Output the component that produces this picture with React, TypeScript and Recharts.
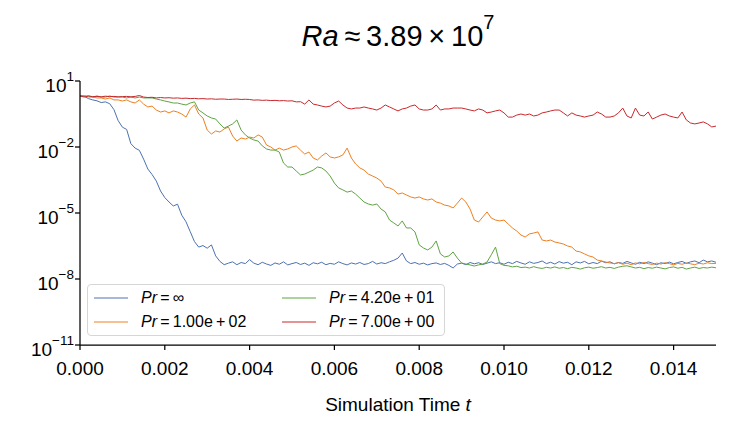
import { LineChart, Line, XAxis, YAxis, Legend } from 'recharts'

// time step between samples (t runs 0 .. 0.015)
const T_STEP = 0.0001

// log10 of the plotted quantity, one value per sample
const logInf = [
  0.33, 0.30, 0.20, 0.14, 0.10, 0.02, 0.05, -0.03, -0.30, -0.80,
  -1.10, -1.20, -1.85, -2.05, -2.15, -2.55, -3.00, -3.25, -3.55, -4.00,
  -4.30, -4.50, -4.68, -4.60, -5.10, -5.40, -5.85, -6.30, -6.55, -6.48,
  -6.60, -6.45, -6.95, -7.20, -7.35, -7.28, -7.22, -7.35, -7.25, -7.30,
  -7.12, -7.28, -7.35, -7.24, -7.32, -7.38, -7.27, -7.33, -7.22, -7.36,
  -7.30, -7.25, -7.34, -7.28, -7.38, -7.26, -7.31, -7.24, -7.35, -7.29,
  -7.33, -7.22, -7.30, -7.36, -7.27, -7.32, -7.25, -7.34, -7.30, -7.20,
  -7.32, -7.26, -7.30, -7.22, -7.15, -7.05, -6.82, -7.18, -7.30, -7.25,
  -7.33, -7.28, -7.36, -7.30, -7.27, -7.34, -7.29, -7.38, -7.50, -7.32,
  -7.28, -7.35, -7.25, -7.31, -7.26, -7.34, -7.28, -7.22, -7.30, -7.26,
  -7.33, -7.24, -7.30, -7.20, -7.27, -7.33, -7.22, -7.29, -7.25, -7.18,
  -7.30, -7.24, -7.32, -7.21, -7.28, -7.24, -7.35, -7.22, -7.27, -7.20,
  -7.31, -7.25, -7.30, -7.19, -7.26, -7.22, -7.31, -7.25, -7.29, -7.20,
  -7.27, -7.33, -7.24, -7.30, -7.22, -7.28, -7.35, -7.26, -7.30, -7.23,
  -7.31, -7.25, -7.20, -7.29, -7.22, -7.18, -7.26, -7.14, -7.22, -7.18,
  -7.24,
]

const log100 = [
  0.32, 0.32, 0.27, 0.27, 0.23, 0.23, 0.18, 0.23, 0.14, 0.14,
  0.09, 0.14, 0.05, 0.00, 0.14, -0.05, -0.18, -0.14, -0.32, -0.41,
  -0.36, -0.45, -0.36, -0.41, -0.50, -0.64, -0.27, -0.09, -0.50, -0.68,
  -1.23, -1.41, -1.27, -1.32, -1.18, -1.09, -1.50, -1.73, -1.59, -1.64,
  -1.55, -1.59, -1.45, -1.55, -1.91, -2.00, -2.14, -2.05, -2.14, -2.09,
  -2.00, -1.95, -2.14, -2.32, -2.23, -2.50, -2.59, -2.41, -2.27, -2.45,
  -2.50, -2.45, -2.36, -2.05, -2.50, -2.77, -2.95, -3.05, -3.23, -3.32,
  -3.41, -3.55, -3.82, -3.86, -3.95, -4.14, -4.09, -4.18, -4.27, -4.32,
  -4.27, -4.36, -4.41, -4.36, -4.50, -4.55, -4.64, -4.68, -4.77, -4.55,
  -4.32, -4.50, -4.82, -5.32, -5.41, -5.18, -4.95, -5.23, -5.32, -5.36,
  -5.32, -5.50, -5.68, -5.82, -6.00, -6.09, -5.95, -5.91, -5.86, -6.23,
  -6.27, -6.23, -6.32, -6.36, -6.41, -6.50, -6.55, -6.73, -6.77, -6.86,
  -6.95, -7.00, -7.14, -7.18, -7.23, -7.27, -7.30, -7.26, -7.33, -7.28,
  -7.35, -7.27, -7.31, -7.25, -7.30, -7.34, -7.28, -7.32, -7.26, -7.30,
  -7.36, -7.29, -7.33, -7.27, -7.31, -7.35, -7.28, -7.32, -7.26, -7.30,
  -7.29,
]

const log42 = [
  0.32, 0.32, 0.32, 0.27, 0.32, 0.27, 0.27, 0.32, 0.27, 0.27,
  0.27, 0.23, 0.27, 0.23, 0.27, 0.23, 0.23, 0.23, 0.18, 0.14,
  0.09, 0.05, 0.00, 0.00, -0.05, -0.09, 0.00, 0.05, -0.32, -0.45,
  -0.59, -0.68, -0.73, -0.95, -1.14, -1.05, -0.95, -0.77, -1.23, -1.45,
  -1.59, -1.68, -1.73, -1.95, -2.09, -2.14, -2.14, -2.23, -2.73, -2.91,
  -2.91, -3.09, -3.27, -3.23, -3.14, -3.05, -2.91, -2.95, -3.09, -3.32,
  -3.64, -3.86, -3.95, -4.05, -4.00, -4.14, -4.32, -4.50, -4.59, -4.64,
  -4.59, -4.82, -4.95, -5.32, -5.45, -5.59, -5.36, -5.68, -5.68, -5.86,
  -6.45, -6.59, -6.68, -6.55, -6.27, -6.86, -7.00, -6.95, -6.77, -7.05,
  -7.27, -7.32, -7.36, -7.41, -7.36, -7.32, -7.23, -6.90, -6.55, -7.30,
  -7.38, -7.40, -7.45, -7.42, -7.48, -7.46, -7.50, -7.44, -7.49, -7.52,
  -7.47, -7.50, -7.45, -7.51, -7.48, -7.53, -7.47, -7.50, -7.55, -7.49,
  -7.46, -7.51, -7.48, -7.44, -7.50, -7.47, -7.52, -7.46, -7.42, -7.40,
  -7.45, -7.50, -7.47, -7.53, -7.48, -7.51, -7.46, -7.50, -7.54, -7.48,
  -7.45, -7.51, -7.47, -7.55, -7.50, -7.46, -7.52, -7.48, -7.50, -7.46,
  -7.49,
]

const log7 = [
  0.32, 0.27, 0.32, 0.29, 0.30, 0.28, 0.31, 0.29, 0.30, 0.28,
  0.29, 0.30, 0.28, 0.30, 0.34, 0.27, 0.25, 0.26, 0.23, 0.25,
  0.23, 0.24, 0.22, 0.23, 0.21, 0.22, 0.20, 0.21, 0.19, 0.20,
  0.18, 0.19, 0.17, 0.18, 0.18, 0.16, 0.17, 0.18, 0.16, 0.17,
  0.16, 0.13, 0.14, 0.12, 0.13, 0.11, 0.12, 0.10, 0.11, 0.09,
  0.10, 0.05, 0.06, -0.05, 0.14, -0.05, -0.09, -0.14, -0.18, -0.14,
  0.00, 0.09, -0.09, -0.23, -0.27, -0.23, -0.23, -0.18, -0.23, -0.27,
  -0.32, -0.23, -0.09, -0.18, -0.27, -0.36, -0.27, -0.23, -0.14, -0.09,
  -0.27, -0.32, -0.32, -0.27, -0.09, -0.32, -0.27, -0.27, -0.23, -0.23,
  -0.23, -0.27, -0.32, -0.36, -0.27, -0.32, -0.45, -0.41, -0.36, -0.32,
  -0.45, -0.64, -0.64, -0.55, -0.50, -0.55, -0.50, -0.59, -0.55, -0.45,
  -0.41, -0.36, -0.32, -0.32, -0.45, -0.59, -0.45, -0.55, -0.59, -0.64,
  -0.59, -0.55, -0.41, -0.50, -0.64, -0.64, -0.59, -0.45, -0.23, -0.59,
  -0.68, -0.23, -0.55, -0.59, -0.41, -0.73, -0.64, -0.55, -0.50, -0.59,
  -0.64, -0.68, -0.41, -0.77, -0.91, -0.95, -0.91, -0.86, -0.95, -1.09,
  -1.05,
]

const X_TICKS = [0, 0.002, 0.004, 0.006, 0.008, 0.01, 0.012, 0.014]
const Y_TICKS = [1e-11, 1e-8, 1e-5, 1e-2, 10]

const SERIES = [
  { key: 'inf', pr: '∞', color: '#4c72b0', logs: logInf },
  { key: 'p100', pr: '1.00e\u2009+\u200902', color: '#ee8021', logs: log100 },
  { key: 'p42', pr: '4.20e\u2009+\u200901', color: '#5fa443', logs: log42 },
  { key: 'p7', pr: '7.00e\u2009+\u200900', color: '#c9282d', logs: log7 },
]

const data = logInf.map((_, i) => {
  const row: Record<string, number> = { t: i * T_STEP }
  SERIES.forEach((s) => {
    row[s.key] = Math.pow(10, s.logs[i])
  })
  return row
})

const FONT = '"Liberation Sans", Arial, sans-serif'

function XTick({ x, y, payload }: any) {
  return (
    <text x={x} y={y} dy={23} textAnchor="middle" fontSize={19} fill="#000" fontFamily={FONT}>
      {payload.value.toFixed(3)}
    </text>
  )
}

function YTick({ x, y, payload }: any) {
  const exp = Math.round(Math.log10(payload.value))
  const expText = exp < 0 ? '\u2212' + -exp : String(exp)
  return (
    <text x={x + 1} y={y} dy={11} textAnchor="end" fontSize={19} fill="#000" fontFamily={FONT}>
      <tspan>10</tspan>
      <tspan dy={-11} fontSize={13.5}>{expText}</tspan>
    </text>
  )
}

function XTitle({ viewBox }: any) {
  const cx = viewBox.x + viewBox.width / 2
  return (
    <text x={cx} y={viewBox.y + 66} textAnchor="middle" fontSize={19} fill="#000" fontFamily={FONT}>
      Simulation Time <tspan fontStyle="italic">t</tspan>
    </text>
  )
}

function PrLegend() {
  return (
    <div
      style={{
        boxSizing: 'border-box',
        width: 358,
        height: 52,
        border: '1px solid #d6d6d6',
        borderRadius: 4,
        background: 'rgba(255,255,255,0.85)',
        display: 'grid',
        gridTemplateRows: '24px 24px',
        gridAutoFlow: 'column',
        gridTemplateColumns: '188px 160px',
        padding: '1px 0 0 6px',
        fontFamily: FONT,
        fontSize: 16,
        color: '#000',
      }}
    >
      {SERIES.map((s) => (
        <div key={s.key} style={{ display: 'flex', alignItems: 'center', whiteSpace: 'nowrap' }}>
          <svg width={34} height={4} style={{ marginRight: 13 }}>
            <line x1={0} y1={2} x2={34} y2={2} stroke={s.color} strokeWidth={1} />
          </svg>
          <span>
            <i>Pr</i>{'\u2009=\u2009'}
            {s.pr}
          </span>
        </div>
      ))}
    </div>
  )
}

export default function App() {
  return (
    <div style={{ position: 'absolute', left: 0, top: 0, width: 738, height: 429, background: '#fff' }}>
      <div
        style={{
          position: 'absolute',
          left: 80,
          width: 636,
          top: 20,
          textAlign: 'center',
          fontFamily: FONT,
          fontSize: 29,
          color: '#000',
          zIndex: 2,
        }}
      >
        <i>Ra</i>
        {'\u2009≈\u20093.89\u2009×\u200910'}
        <sup style={{ fontSize: 20, verticalAlign: 'top', position: 'relative', top: -9 }}>7</sup>
      </div>
      <LineChart
        width={738}
        height={429}
        data={data}
        margin={{ top: 81, right: 22, bottom: 44, left: 20 }}
      >
        <XAxis
          dataKey="t"
          type="number"
          domain={[0, 0.015]}
          ticks={X_TICKS}
          allowDataOverflow
          height={40}
          stroke="#000"
          strokeWidth={1.25}
          tickSize={5}
          tick={<XTick />}
          label={<XTitle />}
        />
        <YAxis
          type="number"
          scale="log"
          domain={[1e-11, 10]}
          ticks={Y_TICKS}
          allowDataOverflow
          width={60}
          stroke="#000"
          strokeWidth={1.25}
          tickSize={5}
          tick={<YTick />}
        />
        <Legend
          layout="horizontal"
          verticalAlign="middle"
          align="center"
          content={<PrLegend />}
          wrapperStyle={{ left: 87, top: 284, width: 358, height: 52 }}
        />
        {SERIES.map((s) => (
          <Line
            key={s.key}
            dataKey={s.key}
            stroke={s.color}
            strokeWidth={1}
            dot={false}
            activeDot={false}
            isAnimationActive={false}
          />
        ))}
      </LineChart>
    </div>
  )
}
